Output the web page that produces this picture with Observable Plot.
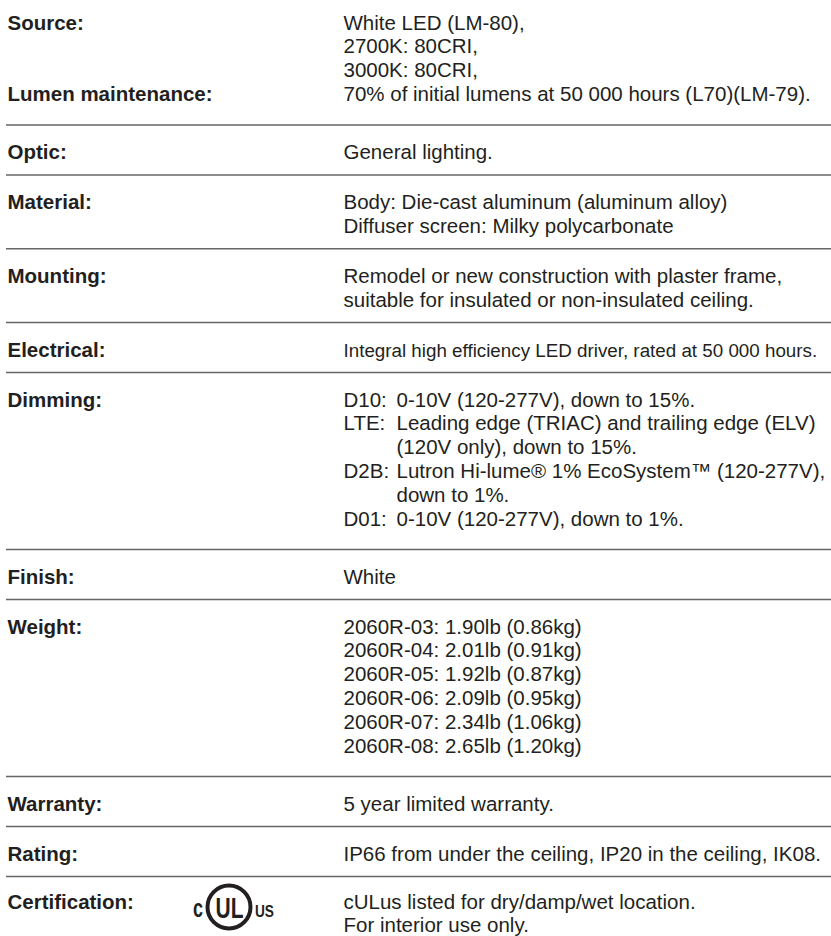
<!DOCTYPE html>
<html>
<head>
<meta charset="utf-8">
<script src="https://cdn.jsdelivr.net/npm/d3@7"></script>
<script src="https://cdn.jsdelivr.net/npm/@observablehq/plot@0.6"></script>
<style>
  html, body { margin: 0; padding: 0; background: #fff; }
  #chart svg { display: block; }
</style>
</head>
<body>
<div id="chart"></div>
<script>
// ---------- DATA ----------
const sectionLabels = ["Source:", "Optic:", "Material:", "Mounting:", "Electrical:", "Dimming:", "Finish:", "Weight:", "Warranty:", "Rating:", "Certification:"];
const extraLabels = [{section: 0, line: 3, text: "Lumen maintenance:"}];

const sourceLines = ["White LED (LM-80),", "2700K: 80CRI,", "3000K: 80CRI,", "70% of initial lumens at 50 000 hours (L70)(LM-79)."];
const opticLines = ["General lighting."];
const materialLines = ["Body: Die-cast aluminum (aluminum alloy)", "Diffuser screen: Milky polycarbonate"];
const mountingLines = ["Remodel or new construction with plaster frame,", "suitable for insulated or non-insulated ceiling."];
const electricalLines = ["Integral high efficiency LED driver, rated at 50 000 hours."];
const dimmingCodes = ["D10:", "LTE:", "", "D2B:", "", "D01:"];
const dimmingLines = ["0-10V (120-277V), down to 15%.", "Leading edge (TRIAC) and trailing edge (ELV)", "(120V only), down to 15%.", "Lutron Hi-lume® 1% EcoSystem™ (120-277V),", "down to 1%.", "0-10V (120-277V), down to 1%."];
const finishLines = ["White"];
const weightModels = ["2060R-03", "2060R-04", "2060R-05", "2060R-06", "2060R-07", "2060R-08"];
const weightLb = [1.90, 2.01, 1.92, 2.09, 2.34, 2.65];
const weightKg = [0.86, 0.91, 0.87, 0.95, 1.06, 1.20];
const warrantyLines = ["5 year limited warranty."];
const ratingLines = ["IP66 from under the ceiling, IP20 in the ceiling, IK08."];
const certificationLines = ["cULus listed for dry/damp/wet location.", "For interior use only."];
const logoParts = ["c", "UL", "US"];

// ---------- LAYOUT ----------
const W = 831, H = 936;
const LABEL_X = 7, VALUE_X = 343, INDENT_X = 396, RULE_X1 = 6, RULE_X2 = 831;
const LH = 23.8, FIRST_TOP = 29, TOP_PAD = 34, LAST_TOP_PAD = 32;
const FONT = "'Liberation Sans', Arial, Helvetica, sans-serif";
const NARROW = "'Liberation Sans Narrow', 'Liberation Sans', Arial, sans-serif";
const INK = "#231f20";
const BASE_SIZE = 20.5, SMALL_SIZE = 18.8;

const weightLines = weightModels.map((m, i) => `${m}: ${weightLb[i].toFixed(2)}lb (${weightKg[i].toFixed(2)}kg)`);

const sectionValues = [
  sourceLines.map(t => ({text: t})),
  opticLines.map(t => ({text: t})),
  materialLines.map(t => ({text: t})),
  mountingLines.map(t => ({text: t})),
  electricalLines.map(t => ({text: t, size: SMALL_SIZE})),
  dimmingLines.map((t, i) => ({code: dimmingCodes[i], text: t, indent: true})),
  finishLines.map(t => ({text: t})),
  weightLines.map(t => ({text: t})),
  warrantyLines.map(t => ({text: t})),
  ratingLines.map(t => ({text: t})),
  certificationLines.map(t => ({text: t}))
];

const labelItems = [], valueItems = [], rules = [], baselines = [];
let base = FIRST_TOP;
sectionValues.forEach((lines, s) => {
  baselines.push(base);
  labelItems.push({x: LABEL_X, y: base, text: sectionLabels[s]});
  lines.forEach((d, i) => {
    const y = base + i * LH;
    if (d.indent) {
      if (d.code) valueItems.push({x: VALUE_X, y, text: d.code, size: BASE_SIZE});
      valueItems.push({x: INDENT_X, y, text: d.text, size: BASE_SIZE});
    } else {
      valueItems.push({x: VALUE_X, y, text: d.text, size: d.size ?? BASE_SIZE});
    }
  });
  const n = lines.length;
  const rule = base + (n - 1) * LH + (n >= 4 ? 24 : 16);
  if (s < sectionValues.length - 1) rules.push(rule);
  base = rule + (s === sectionValues.length - 2 ? LAST_TOP_PAD : TOP_PAD);
});
extraLabels.forEach(e => labelItems.push({x: LABEL_X, y: baselines[e.section] + e.line * LH, text: e.text}));

// UL logo anchored on the certification row
const certBase = baselines[baselines.length - 1];
const logo = {x: 228.5, y: certBase - 1.5};
const logoItems = [
  {x: logo.x - 31, y: logo.y + 10, text: logoParts[0], size: 26, fit: 10},
  {x: logo.x + 0.5, y: logo.y + 11, text: logoParts[1], size: 29, fit: 28},
  {x: logo.x + 35.5, y: logo.y + 10, text: logoParts[2], size: 17, fit: 19}
];

// ---------- PLOT ----------
const chart = Plot.plot({
  width: W, height: H, margin: 0,
  x: {domain: [0, W], range: [0, W], axis: null},
  y: {domain: [0, H], range: [0, H], axis: null},
  marks: [
    Plot.ruleY(rules, {y: d => d, x1: () => RULE_X1, x2: () => RULE_X2, stroke: "#666666", strokeWidth: 1.5}),
    Plot.text(labelItems, {x: "x", y: "y", text: "text", textAnchor: "start", lineAnchor: "bottom",
      fontFamily: FONT, fontSize: BASE_SIZE, fontWeight: "bold", fill: INK}),
    Plot.text(valueItems, {x: "x", y: "y", text: "text", textAnchor: "start", lineAnchor: "bottom",
      fontFamily: FONT, fontSize: d => d.size, fill: INK}),
    Plot.dot([logo], {x: "x", y: "y", r: 21.5, stroke: INK, strokeWidth: 4, fill: "none"}),
    Plot.text(logoItems, {x: "x", y: "y", text: "text", textAnchor: "middle", lineAnchor: "bottom",
      fontFamily: NARROW, fontWeight: "bold", fontSize: d => d.size, fill: INK})
  ]
});

// condense logo letters horizontally
const logoFits = new Map(logoItems.map(d => [d.text, d.fit]));
chart.querySelectorAll("g[font-family]").forEach(g => {
  if (g.getAttribute("font-family") !== NARROW) return;
  g.querySelectorAll("text").forEach(t => {
    const f = logoFits.get(t.textContent);
    if (f) { t.setAttribute("textLength", f); t.setAttribute("lengthAdjust", "spacingAndGlyphs"); }
  });
});
document.getElementById("chart").appendChild(chart);
</script>
</body>
</html>
